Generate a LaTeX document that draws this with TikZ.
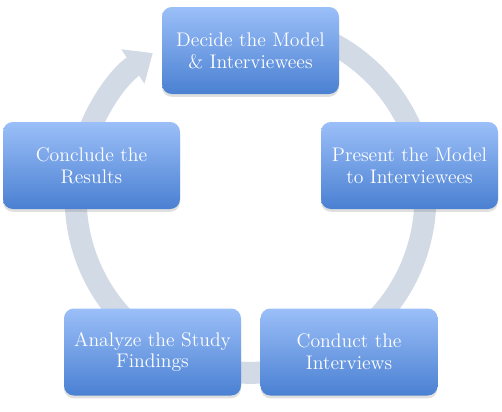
\documentclass[tikz,border=0pt]{standalone}
\usepackage{tikz}
\usetikzlibrary{arrows.meta,positioning,shadows}
\definecolor{cicloTop}{HTML}{9BBFF8}
\definecolor{cicloMid}{HTML}{729FEA}
\definecolor{cicloBot}{HTML}{4A80D2}
\definecolor{cicloRing}{HTML}{D2DAE6}
\tikzset{
  fase/.style={rounded corners=7pt, align=center, text=white, font=\fontsize{14}{15.5}\selectfont, minimum width=4.425cm, minimum height=2.175cm, top color=cicloTop, middle color=cicloMid, bottom color=cicloBot, drop shadow={shadow xshift=0pt, shadow yshift=-2pt, opacity=0.25}},
  anillo/.style={draw=cicloRing, line width=0.55cm, -{Triangle[width=1cm,length=0.6cm]}},
}
\begin{document}
\begin{tikzpicture}
\useasboundingbox (0,0) rectangle (12.55,-10.3);
% Anillo del ciclo
\coordinate (centro) at (6.2625,-4.95);
\draw[anillo] ([shift={(75:4.37)}]centro) arc[start angle=75, end angle=-236, radius=4.37];

% Fases
\node[fase] (f1) at (6.2625,-1.2625) {Decide the Model\\\& Interviewees};
\node[fase] (f2) at (10.2375,-4.1375) {Present the Model\\to Interviewees};
\node[fase] (f4) at (3.8125,-8.8) {Analyze the Study\\Findings};
\node[fase, right=0.475cm of f4] (f3) {Conduct the\\Interviews};
\node[fase] (f5) at (2.2875,-4.1375) {Conclude the\\Results};
\end{tikzpicture}
\end{document}
